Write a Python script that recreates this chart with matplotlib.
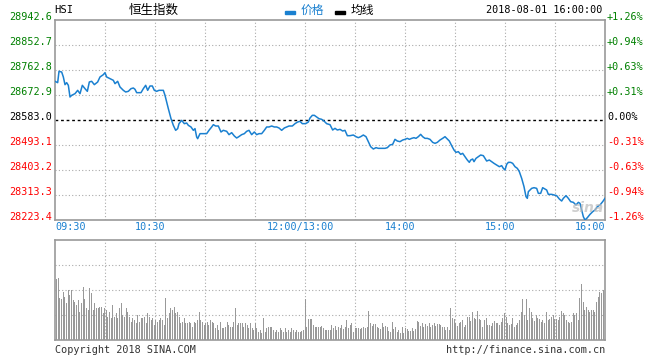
import matplotlib.pyplot as plt
import matplotlib.patches as mpatches
from matplotlib.transforms import offset_copy, blended_transform_factory
import numpy as np

# intraday price (minutes since 09:30, lunch break removed)
price_t = [0, 1.6, 2.4, 4, 5, 6, 7, 8, 9, 10, 12, 13.6, 15, 16.4, 18, 19.4, 20.6, 22, 23.6, 25.6,
           27, 29, 30, 31, 33, 35, 36, 37.6, 39, 41, 42.4, 44, 45.6, 47, 48, 49, 51.6, 53, 54.4, 55.6,
           57, 58.4, 59.6, 61, 62.4, 65, 66, 67, 68, 69.6, 71, 72.4, 73.6, 74.4, 76, 77.6, 79, 80, 81.6, 83,
           84, 85, 85.6, 87, 91, 92.4, 94, 95, 96.4, 98, 99.6, 101, 103, 104.4, 106, 107.6, 109, 110, 112, 113.6,
           115, 116.4, 118, 119.6, 121, 122.4, 124, 125.6, 127, 128.4, 130, 131.6, 133, 134.4, 136, 137.6, 139, 140.4, 142.4, 144,
           145.6, 147, 148.4, 150.4, 152, 153, 154.4, 155.6, 157, 158.4, 160, 161.6, 163, 165, 166.6, 168, 169.4, 171, 172.6, 174,
           175.4, 177, 179, 180.6, 182, 183.4, 185, 186.6, 188, 189.4, 191, 192.6, 194, 196, 198, 199.4, 201, 202.6, 204, 205.4,
           207, 208.6, 210, 211.4, 212.6, 214, 215.4, 216.6, 218, 219.4, 220.6, 222, 223.4, 225, 226.6, 228, 229.4, 231, 232.6, 234,
           235, 236.6, 238, 239.4, 240.6, 242, 243.4, 244.6, 246, 247.4, 248.6, 249.4, 250.6, 251.4, 252.6, 254, 255.4, 257, 258, 259,
           260.6, 262, 263.4, 265, 266.6, 268, 269, 270, 271, 272, 273.4, 274.6, 276, 277.4, 278.6, 280, 281.4, 282.6, 283.4, 284,
           285, 286, 287.4, 289, 290, 291.4, 292.6, 294, 295, 296, 298, 299.4, 301, 302.6, 304, 305, 306.6, 308, 309.4, 311,
           312.6, 314, 315, 316, 317, 318, 319.4, 321, 322.6, 324, 325.4, 327, 328.6, 330]
price_v = [28722.1, 28717.3, 28758.0, 28755.6, 28737.7, 28710.1, 28717.3, 28707.7, 28665.7, 28671.7,
           28677.7, 28689.7, 28677.7, 28707.7, 28695.7, 28686.1, 28719.7, 28722.1, 28710.1, 28719.7,
           28737.7, 28746.0, 28753.2, 28737.7, 28731.7, 28725.7, 28713.7, 28722.1, 28701.7, 28689.7,
           28683.7, 28686.1, 28695.7, 28698.1, 28693.3, 28681.3, 28681.3, 28695.7, 28707.7, 28689.7,
           28705.3, 28705.3, 28689.7, 28686.1, 28689.7, 28689.7, 28671.7, 28647.8, 28623.8, 28587.8,
           28563.8, 28545.9, 28551.9, 28569.8, 28581.8, 28569.8, 28572.2, 28563.8, 28557.9, 28545.9,
           28551.9, 28521.9, 28515.9, 28533.9, 28533.9, 28545.9, 28557.9, 28566.2, 28561.4, 28561.4,
           28539.9, 28545.9, 28542.3, 28530.3, 28537.5, 28525.5, 28518.3, 28521.9, 28530.3, 28533.9,
           28542.3, 28545.9, 28530.3, 28539.9, 28530.3, 28533.9, 28533.9, 28545.9, 28557.9, 28557.9,
           28561.4, 28557.9, 28557.9, 28554.3, 28545.9, 28554.3, 28557.9, 28561.4, 28561.4, 28569.8,
           28575.8, 28578.2, 28569.8, 28569.8, 28575.8, 28590.2, 28599.8, 28599.8, 28593.8, 28587.8,
           28585.4, 28578.2, 28569.8, 28566.2, 28547.0, 28553.0, 28547.0, 28549.4, 28543.4, 28545.8,
           28526.6, 28526.6, 28529.0, 28523.0, 28519.4, 28523.0, 28529.0, 28523.0, 28505.1, 28487.1,
           28478.7, 28483.5, 28481.1, 28481.1, 28481.1, 28483.5, 28493.1, 28495.5, 28513.4, 28507.4,
           28505.1, 28511.0, 28513.4, 28517.0, 28513.4, 28517.0, 28519.4, 28517.0, 28523.0, 28531.4,
           28523.0, 28517.0, 28517.0, 28513.4, 28502.6, 28499.1, 28502.6, 28511.0, 28517.0, 28523.0,
           28517.0, 28507.4, 28490.7, 28475.1, 28466.7, 28469.1, 28459.5, 28463.1, 28451.1, 28439.1,
           28430.7, 28439.1, 28442.7, 28433.1, 28445.1, 28451.1, 28457.1, 28454.7, 28445.1, 28435.5,
           28439.1, 28433.1, 28427.1, 28421.1, 28415.1, 28418.8, 28409.1, 28403.2, 28423.5, 28430.7,
           28430.7, 28427.1, 28415.1, 28409.1, 28397.2, 28373.2, 28343.3, 28307.3, 28301.3, 28325.2,
           28331.2, 28337.2, 28339.6, 28337.2, 28319.2, 28319.2, 28339.6, 28334.8, 28331.2, 28315.6,
           28315.6, 28313.3, 28310.9, 28298.9, 28291.7, 28301.3, 28310.9, 28301.3, 28289.3, 28286.9,
           28277.3, 28286.9, 28283.3, 28259.3, 28235.3, 28223.3, 28231.7, 28243.7, 28253.3, 28259.3,
           28271.3, 28277.3, 28289.3, 28301.3]

# volume bars (relative height, 100 = top of panel)
vol_am = [61, 62, 42, 41, 48, 43, 37, 50, 45, 50, 40, 38, 35, 40, 28, 37, 53, 41, 32, 30,
          52, 47, 30, 37, 32, 32, 33, 33, 27, 32, 30, 23, 28, 22, 35, 23, 27, 22, 32, 37,
          25, 23, 32, 28, 23, 18, 22, 20, 17, 25, 18, 22, 22, 23, 17, 27, 23, 20, 22, 15,
          20, 18, 20, 22, 20, 15, 42, 22, 27, 32, 30, 33, 27, 28, 23, 17, 18, 22, 17, 17,
          18, 17, 13, 18, 17, 20, 28, 20, 18, 15, 17, 18, 15, 20, 18, 17, 12, 15, 10, 18,
          12, 12, 13, 18, 15, 13, 13, 18, 32, 15, 17, 17, 17, 13, 17, 15, 12, 17, 12, 10,
          17, 12, 8, 10, 7, 22, 8, 12, 13, 13, 13, 10, 8, 10, 8, 12, 10, 8, 12, 8,
          10, 8, 12, 10, 8, 10, 8, 8, 9, 10]
vol_pm = [41, 13, 21, 21, 21, 15, 13, 13, 13, 13, 14, 12, 10, 10,
          10, 10, 15, 12, 14, 10, 13, 12, 15, 11, 13, 20, 12, 15, 17, 8, 12, 12, 12, 11,
          12, 13, 12, 13, 29, 17, 14, 16, 16, 13, 12, 11, 17, 13, 14, 13, 9, 8, 18, 11,
          13, 8, 10, 7, 13, 7, 12, 11, 9, 9, 12, 9, 11, 19, 18, 14, 17, 13, 16, 14,
          17, 13, 15, 17, 14, 16, 16, 15, 13, 13, 10, 13, 10, 32, 22, 21, 17, 14, 17, 18,
          20, 13, 15, 23, 23, 19, 28, 22, 21, 29, 21, 20, 13, 20, 22, 15, 15, 14, 17, 19,
          17, 17, 15, 18, 22, 27, 23, 17, 15, 16, 22, 13, 15, 17, 20, 28, 41, 25, 41, 20,
          32, 28, 22, 19, 25, 22, 21, 18, 20, 17, 28, 20, 21, 23, 25, 21, 21, 20, 23, 29,
          27, 25, 20, 18, 17, 18, 27, 25, 27, 20, 42, 56, 38, 30, 33, 30, 28, 30, 30, 28,
          38, 43, 48, 47, 50, 50]

prev_close = 28583.0
y_levels = [28942.6, 28852.7, 28762.8, 28672.9, 28583.0, 28493.1, 28403.2, 28313.3, 28223.4]
pct_labels = ['+1.26%', '+0.94%', '+0.63%', '+0.31%', '0.00%', '-0.31%', '-0.63%', '-0.94%', '-1.26%']
time_ticks = [0, 60, 150, 210, 270, 330]
time_labels = ['09:30', '10:30', '12:00/13:00', '14:00', '15:00', '16:00']

W, H = 660, 360
mono = 'DejaVu Sans Mono'
grid_kw = dict(color='#aaaaaa', linestyle=(0, (1, 2)), linewidth=0.8)
blue = '#1a80d0'

fig = plt.figure(figsize=(W / 100, H / 100), dpi=100)
ax = fig.add_axes([55 / W, 1 - 220 / H, 550 / W, 200 / H])
axv = fig.add_axes([55 / W, 1 - 340 / H, 550 / W, 100 / H])

# price panel
ax.plot(price_t, price_v, color=blue, linewidth=1.1, zorder=3)
ax.axhline(prev_close, color='black', linestyle=(0, (2, 2)), linewidth=1, zorder=2)
ax.set_xlim(0, 330)
ax.set_ylim(y_levels[-1], y_levels[0])
for lv in y_levels[1:-1]:
    if lv != prev_close:
        ax.axhline(lv, **grid_kw)
for m in range(30, 330, 30):
    ax.axvline(m, **grid_kw)
    axv.axvline(m, **grid_kw)

lt = offset_copy(ax.get_yaxis_transform(), fig=fig, x=-3, y=3, units='dots')
rt = offset_copy(ax.get_yaxis_transform(), fig=fig, x=2, y=3, units='dots')
for lv, pl in zip(y_levels, pct_labels):
    col = '#008000' if lv > prev_close else ('#ff0000' if lv < prev_close else 'black')
    ax.text(0, lv, f'{lv:.1f}', transform=lt, ha='right', va='center', color=col,
            fontsize=7.3, family=mono, clip_on=False)
    ax.text(1, lv, pl, transform=rt, ha='left', va='center', color=col,
            fontsize=7.3, family=mono, clip_on=False)

bt = blended_transform_factory(ax.transData, ax.transAxes)
for i, (m, lab) in enumerate(zip(time_ticks, time_labels)):
    if i == 0:
        ha, dx = 'left', 0
    elif i == len(time_ticks) - 1:
        ha, dx = 'right', 0
    else:
        ha, dx = 'center', -5
    ax.text(m, 0, lab, transform=offset_copy(bt, fig=fig, x=dx, y=-7, units='dots'),
            ha=ha, va='center', color=blue, fontsize=7.3, family=mono, clip_on=False)

# volume panel
vol_x = list(np.linspace(1, 149, len(vol_am))) + list(np.linspace(150, 330, len(vol_pm)))
axv.bar(vol_x, vol_am + vol_pm, width=0.6, color='#999999', zorder=3)
axv.set_xlim(0, 330)
axv.set_ylim(0, 100)
for lv in (25, 50, 75):
    axv.axhline(lv, **grid_kw)

for a in (ax, axv):
    a.set_xticks([])
    a.set_yticks([])
    for s in a.spines.values():
        s.set_color('#999999')
        s.set_linewidth(1.2)

# header
def fx(x):
    return x / W

def fy(y):
    return 1 - y / H

fig.text(fx(54), fy(10), 'HSI', fontsize=7.6, family=mono, va='center', ha='left')
fig.text(fx(154), fy(10), '恒生指数', fontsize=9, family=['Noto Sans CJK SC', 'DejaVu Sans'],
         va='center', ha='center')
fig.add_artist(mpatches.Rectangle((fx(285), fy(14)), 10 / W, 3 / H, color=blue,
                                  transform=fig.transFigure))
fig.text(fx(301), fy(10), '价格', fontsize=8.5, family=['Noto Sans CJK SC', 'DejaVu Sans'],
         va='center', ha='left', color=blue)
fig.add_artist(mpatches.Rectangle((fx(335), fy(14)), 10 / W, 3 / H, color='black',
                                  transform=fig.transFigure))
fig.text(fx(351), fy(10), '均线', fontsize=8.5, family=['Noto Sans CJK SC', 'DejaVu Sans'],
         va='center', ha='left', color='black')
fig.text(fx(602), fy(10), '2018-08-01 16:00:00', fontsize=7.3, family=mono,
         va='center', ha='right')

# footer
fig.text(fx(55), fy(350), 'Copyright 2018 SINA.COM', fontsize=7.3, family=mono,
         va='center', ha='left', color='#333333')
fig.text(fx(605), fy(350), 'http://finance.sina.com.cn', fontsize=7.3, family=mono,
         va='center', ha='right', color='#333333')

# faint watermark
fig.text(fx(588), fy(208), 'sina', fontsize=10, fontweight='bold', style='italic',
         color='#bbbbbb', alpha=0.7, va='center', ha='center')

fig.savefig('out.png', dpi=100)
